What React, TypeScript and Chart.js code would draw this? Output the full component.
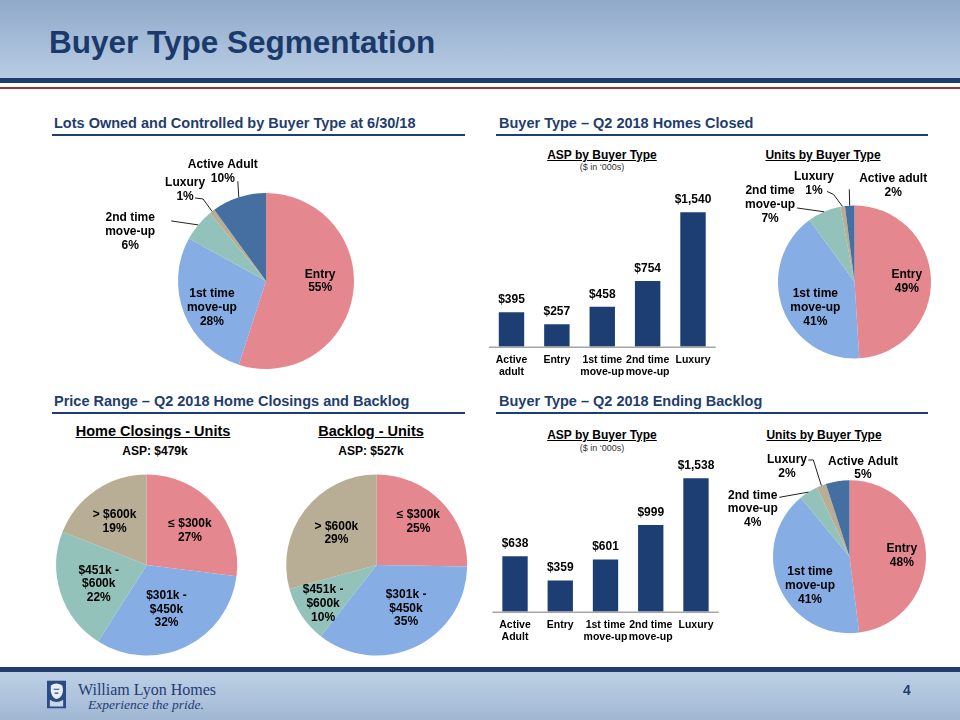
import React, { useEffect, useRef } from "react";
import { Chart, registerables } from "chart.js";

Chart.register(...registerables);

// ---------------- data ----------------
const lotsCategories = ["Entry", "1st time\nmove-up", "2nd time\nmove-up", "Luxury", "Active Adult"];
const lotsPercents = [55, 28, 6, 1, 10];

const closedAspCategories = ["Active\nadult", "Entry", "1st time\nmove-up", "2nd time\nmove-up", "Luxury"];
const closedAspValues = [395, 257, 458, 754, 1540];

const closedUnitsCategories = ["Entry", "1st time\nmove-up", "2nd time\nmove-up", "Luxury", "Active adult"];
const closedUnitsPercents = [49, 41, 7, 1, 2];

const priceRanges = ["≤ $300k", "$301k -\n$450k", "$451k -\n$600k", "> $600k"];
const closingsPercents = [27, 32, 22, 19];
const backlogPercents = [25, 35, 10, 29];

const backlogAspCategories = ["Active\nAdult", "Entry", "1st time\nmove-up", "2nd time\nmove-up", "Luxury"];
const backlogAspValues = [638, 359, 601, 999, 1538];

const backlogUnitsCategories = ["Entry", "1st time\nmove-up", "2nd time\nmove-up", "Luxury", "Active Adult"];
const backlogUnitsPercents = [48, 41, 4, 2, 5];

// ---------------- styles ----------------
const FONT = "'Liberation Sans', Arial, Helvetica, sans-serif";
const SERIF = "'Liberation Serif', 'DejaVu Serif', serif";
const NAVY = "#1f3d6e";
const TITLE_NAVY = "#1b3a6b";
const BAR_NAVY = "#1c3e72";
const PINK = "#e4878f";
const LBLUE = "#86ade4";
const TEAL = "#93c2ba";
const TAN = "#b8ae95";
const STEEL = "#456fa0";

const buyerColors = [PINK, LBLUE, TEAL, TAN, STEEL];
const priceColors = [PINK, LBLUE, TEAL, TAN];

type Place = { out?: boolean; dx: number; dy: number; lead?: [number, number][] };

const lotsPlaces: Place[] = [
  { dx: 2, dy: -8 },
  { dx: -5, dy: 7 },
  { out: true, dx: -68, dy: 7, lead: [[-27, -4]] },
  { out: true, dx: -27, dy: -21.5, lead: [[-17, -13.5], [-9, -12.5]] },
  { out: true, dx: -16, dy: -26, lead: [[-1, -16]] },
];
const closedUnitsPlaces: Place[] = [
  { dx: 6.5, dy: 1 },
  { dx: 4, dy: 10 },
  { out: true, dx: -54, dy: -7, lead: [[-27, -3.8]] },
  { out: true, dx: -28.5, dy: -22.4, lead: [[-15.5, -15], [-9, -12]] },
  { out: true, dx: 43.5, dy: -19.7, lead: [[-0.4, -16.4]] },
];
const backlogUnitsPlaces: Place[] = [
  { dx: 6.5, dy: 1.7 },
  { dx: 2.6, dy: 10.6 },
  { out: true, dx: -55.8, dy: 16.9, lead: [[-29.2, 5.2]] },
  { out: true, dx: -34.3, dy: -18.9, lead: [[-13, -25.6], [-8, -25.6]] },
  { out: true, dx: 25.5, dy: -13 },
];
const closingsPlaces: Place[] = [
  { dx: 2.5, dy: 1.7 },
  { dx: -3.3, dy: -4.9 },
  { dx: 3.7, dy: 2.3 },
  { dx: -1.6, dy: 1.4 },
];
const backlogPlaces: Place[] = [
  { dx: 3, dy: -5.5 },
  { dx: 6, dy: -5.8 },
  { dx: -8.4, dy: 8.4 },
  { dx: 2.9, dy: 1 },
];

// ---------------- plugins ----------------
function makePieLabels(places: Place[]) {
  return {
    id: "pieLabels",
    afterDatasetsDraw(chart: any) {
      const { ctx } = chart;
      const meta = chart.getDatasetMeta(0);
      const vals = chart.data.datasets[0].data;
      const cats = chart.data.labels;
      ctx.save();
      ctx.font = `bold 12px ${FONT}`;
      ctx.fillStyle = "#000";
      ctx.textAlign = "center";
      ctx.textBaseline = "middle";
      ctx.strokeStyle = "#222";
      ctx.lineWidth = 1;
      meta.data.forEach((arc: any, i: number) => {
        const { x, y, startAngle, endAngle, outerRadius } = arc.getProps(
          ["x", "y", "startAngle", "endAngle", "outerRadius"],
          true
        );
        const mid = (startAngle + endAngle) / 2;
        const p = places[i];
        let px: number, py: number;
        if (p.out) {
          const ex = x + outerRadius * Math.cos(mid);
          const ey = y + outerRadius * Math.sin(mid);
          px = ex + p.dx;
          py = ey + p.dy;
          if (p.lead && p.lead.length) {
            ctx.beginPath();
            ctx.moveTo(ex + p.lead[0][0], ey + p.lead[0][1]);
            for (let k = 1; k < p.lead.length; k++) ctx.lineTo(ex + p.lead[k][0], ey + p.lead[k][1]);
            ctx.lineTo(ex, ey);
            ctx.stroke();
          }
        } else {
          px = x + 0.6 * outerRadius * Math.cos(mid) + p.dx;
          py = y + 0.6 * outerRadius * Math.sin(mid) + p.dy;
        }
        const lines = [...String(cats[i]).split("\n"), `${vals[i]}%`];
        const lh = 13.8;
        lines.forEach((t, k) => ctx.fillText(t, px, py + (k - (lines.length - 1) / 2) * lh));
      });
      ctx.restore();
    },
  };
}

function makeBarDecor() {
  return {
    id: "barDecor",
    afterDatasetsDraw(chart: any) {
      const { ctx, chartArea } = chart;
      const meta = chart.getDatasetMeta(0);
      const xs = chart.scales.x;
      const vals = chart.data.datasets[0].data;
      ctx.save();
      ctx.strokeStyle = "#a6a6a6";
      ctx.lineWidth = 1.5;
      ctx.beginPath();
      ctx.moveTo(chartArea.left, chartArea.bottom + 0.5);
      ctx.lineTo(chartArea.right, chartArea.bottom + 0.5);
      ctx.stroke();
      ctx.fillStyle = "#000";
      ctx.textAlign = "center";
      ctx.textBaseline = "middle";
      ctx.font = `bold 12px ${FONT}`;
      meta.data.forEach((bar: any, i: number) => {
        ctx.fillText("$" + Number(vals[i]).toLocaleString("en-US"), bar.x, bar.y - 12.5);
      });
      ctx.font = `bold 10.5px ${FONT}`;
      chart.data.labels.forEach((lab: any, i: number) => {
        const cx = xs.getPixelForValue(i);
        String(lab)
          .split("\n")
          .forEach((t: string, k: number) => ctx.fillText(t, cx, chartArea.bottom + 13.3 + k * 11.7));
      });
      ctx.restore();
    },
  };
}

type Box = { left: number; top: number; width: number; height: number };

function pieConfig(box: Box, cx: number, cy: number, r: number, cats: string[], vals: number[], colors: string[], places: Place[]) {
  return {
    type: "pie",
    data: {
      labels: cats,
      datasets: [{ data: vals, backgroundColor: colors, borderWidth: 0, hoverOffset: 0, radius: r }],
    },
    options: {
      animation: false,
      responsive: false,
      devicePixelRatio: 1,
      events: [],
      layout: {
        padding: {
          left: cx - r - box.left,
          right: box.left + box.width - (cx + r),
          top: cy - r - box.top,
          bottom: box.top + box.height - (cy + r),
        },
      },
      plugins: { legend: { display: false }, tooltip: { enabled: false } },
    },
    plugins: [makePieLabels(places)],
  };
}

function barConfig(box: Box, area: { l: number; r: number; t: number; b: number }, cats: string[], vals: number[], max: number) {
  return {
    type: "bar",
    data: {
      labels: cats,
      datasets: [
        { data: vals, backgroundColor: BAR_NAVY, borderWidth: 0, barPercentage: 0.56, categoryPercentage: 1 },
      ],
    },
    options: {
      animation: false,
      responsive: false,
      devicePixelRatio: 1,
      events: [],
      layout: {
        padding: {
          left: area.l - box.left,
          right: box.left + box.width - area.r,
          top: area.t - box.top,
          bottom: box.top + box.height - area.b,
        },
      },
      scales: {
        x: { display: false },
        y: { display: false, min: 0, max },
      },
      plugins: { legend: { display: false }, tooltip: { enabled: false } },
    },
    plugins: [makeBarDecor()],
  };
}

function ChartCanvas({ box, make }: { box: Box; make: () => any }) {
  const ref = useRef<HTMLCanvasElement>(null);
  useEffect(() => {
    const chart = new Chart(ref.current as HTMLCanvasElement, make());
    return () => chart.destroy();
  }, []);
  return (
    <canvas
      ref={ref}
      width={box.width}
      height={box.height}
      style={{ position: "absolute", left: box.left, top: box.top, width: box.width, height: box.height }}
    />
  );
}

function Txt(props: {
  x: number;
  y: number;
  size: number;
  bold?: boolean;
  italic?: boolean;
  color?: string;
  center?: boolean;
  underline?: boolean;
  family?: string;
  children: React.ReactNode;
}) {
  const { x, y, size, bold = true, italic = false, color = "#000", center = false, underline = false, family = FONT } = props;
  return (
    <div
      style={{
        position: "absolute",
        left: x,
        top: y - size / 2,
        transform: center ? "translateX(-50%)" : undefined,
        whiteSpace: "nowrap",
        fontFamily: family,
        fontSize: size,
        lineHeight: `${size}px`,
        fontWeight: bold ? 700 : 400,
        fontStyle: italic ? "italic" : "normal",
        color,
        textDecoration: underline ? "underline" : "none",
      }}
    >
      {props.children}
    </div>
  );
}

const Rule = ({ x1, x2, y }: { x1: number; x2: number; y: number }) => (
  <div style={{ position: "absolute", left: x1, top: y, width: x2 - x1, height: 2, background: NAVY }} />
);

export default function App() {
  const lotsBox = { left: 80, top: 145, width: 390, height: 240 };
  const closedBarBox = { left: 480, top: 175, width: 250, height: 210 };
  const closedPieBox = { left: 720, top: 165, width: 235, height: 220 };
  const closingsBox = { left: 45, top: 465, width: 210, height: 200 };
  const backlogPieBox = { left: 270, top: 465, width: 210, height: 200 };
  const backlogBarBox = { left: 480, top: 440, width: 250, height: 220 };
  const backlogUnitsBox = { left: 715, top: 445, width: 240, height: 215 };

  return (
    <div
      style={{
        position: "absolute",
        left: 0,
        top: 0,
        width: 960,
        height: 720,
        background: "#fff",
        overflow: "hidden",
        fontFamily: FONT,
      }}
    >
      {/* header */}
      <div
        style={{
          position: "absolute",
          left: 0,
          top: 0,
          width: 960,
          height: 78,
          background: "linear-gradient(to bottom, #8fa9c8 0%, #a6bdd9 55%, #b8cce3 100%)",
        }}
      />
      <div style={{ position: "absolute", left: 0, top: 78, width: 960, height: 5, background: "#1f3d6d" }} />
      <div style={{ position: "absolute", left: 0, top: 86.5, width: 960, height: 2, background: "#9b3440" }} />
      <Txt x={49} y={43} size={31.5} color={TITLE_NAVY}>
        Buyer Type Segmentation
      </Txt>

      {/* section headings */}
      <Txt x={54} y={123} size={14.5} color={NAVY}>
        Lots Owned and Controlled by Buyer Type at 6/30/18
      </Txt>
      <Rule x1={52} x2={465} y={133.5} />
      <Txt x={499} y={123} size={14.5} color={NAVY}>
        Buyer Type – Q2 2018 Homes Closed
      </Txt>
      <Rule x1={496} x2={928} y={133.5} />
      <Txt x={54} y={401.5} size={14.5} color={NAVY}>
        Price Range – Q2 2018 Home Closings and Backlog
      </Txt>
      <Rule x1={52} x2={465} y={412} />
      <Txt x={499} y={401.5} size={14.5} color={NAVY}>
        Buyer Type – Q2 2018 Ending Backlog
      </Txt>
      <Rule x1={496} x2={928} y={412} />

      {/* sub titles */}
      <Txt x={602} y={155} size={12} center underline>
        ASP by Buyer Type
      </Txt>
      <Txt x={602} y={167} size={9} center bold={false} color="#333">
        ($ in ‘000s)
      </Txt>
      <Txt x={823} y={155} size={12} center underline>
        Units by Buyer Type
      </Txt>
      <Txt x={602} y={435} size={12} center underline>
        ASP by Buyer Type
      </Txt>
      <Txt x={602} y={448} size={9} center bold={false} color="#333">
        ($ in ‘000s)
      </Txt>
      <Txt x={824} y={435} size={12} center underline>
        Units by Buyer Type
      </Txt>
      <Txt x={153} y={431} size={14.5} center underline>
        Home Closings - Units
      </Txt>
      <Txt x={155} y={451} size={12} center>
        ASP: $479k
      </Txt>
      <Txt x={371} y={431} size={14.5} center underline>
        Backlog - Units
      </Txt>
      <Txt x={371} y={451} size={12} center>
        ASP: $527k
      </Txt>

      {/* charts */}
      <ChartCanvas
        box={lotsBox}
        make={() => pieConfig(lotsBox, 266, 281, 88, lotsCategories, lotsPercents, buyerColors, lotsPlaces)}
      />
      <ChartCanvas
        box={closedBarBox}
        make={() =>
          barConfig(closedBarBox, { l: 488.8, r: 715.7, t: 180.9, b: 346.7 }, closedAspCategories, closedAspValues, 1900)
        }
      />
      <ChartCanvas
        box={closedPieBox}
        make={() =>
          pieConfig(closedPieBox, 854.5, 282, 76.5, closedUnitsCategories, closedUnitsPercents, buyerColors, closedUnitsPlaces)
        }
      />
      <ChartCanvas
        box={closingsBox}
        make={() => pieConfig(closingsBox, 146.7, 565, 90.5, priceRanges, closingsPercents, priceColors, closingsPlaces)}
      />
      <ChartCanvas
        box={backlogPieBox}
        make={() => pieConfig(backlogPieBox, 376.7, 565, 90.5, priceRanges, backlogPercents, priceColors, backlogPlaces)}
      />
      <ChartCanvas
        box={backlogBarBox}
        make={() =>
          barConfig(backlogBarBox, { l: 492.4, r: 718.6, t: 446.9, b: 611.7 }, backlogAspCategories, backlogAspValues, 1900)
        }
      />
      <ChartCanvas
        box={backlogUnitsBox}
        make={() =>
          pieConfig(
            backlogUnitsBox,
            849.5,
            556.7,
            76.5,
            backlogUnitsCategories,
            backlogUnitsPercents,
            buyerColors,
            backlogUnitsPlaces
          )
        }
      />

      {/* footer */}
      <div style={{ position: "absolute", left: 0, top: 667, width: 960, height: 5, background: "#1f3d6d" }} />
      <div
        style={{
          position: "absolute",
          left: 0,
          top: 672,
          width: 960,
          height: 48,
          background: "linear-gradient(to bottom, #bccfe4 0%, #adc2dc 60%, #9fb7d2 100%)",
        }}
      />
      <svg style={{ position: "absolute", left: 47, top: 680 }} width={19} height={29} viewBox="0 0 20 29">
        <rect x={0} y={0} width={20} height={29} fill="#2b4c82" />
        <path d="M4 5 Q10 1 16 5 Q18 11 15 16 Q12 20 9 19 Q5 17 4 11 Z" fill="#e8eef6" />
        <path d="M7 9 L13 9 M8 13 L12 13 M6 21 L14 21 M5 24 L15 24" stroke="#2b4c82" strokeWidth={1.2} />
        <path d="M3 20 Q10 25 17 20 L17 27 L3 27 Z" fill="#c9d6e8" />
      </svg>
      <Txt x={78} y={690} size={16} bold={false} color="#1f3d73" family={SERIF}>
        William Lyon Homes
      </Txt>
      <Txt x={88} y={705} size={13.5} bold={false} italic color="#1f3d73" family={SERIF}>
        Experience the pride.
      </Txt>
      <Txt x={903} y={690} size={14} color={NAVY}>
        4
      </Txt>
    </div>
  );
}
